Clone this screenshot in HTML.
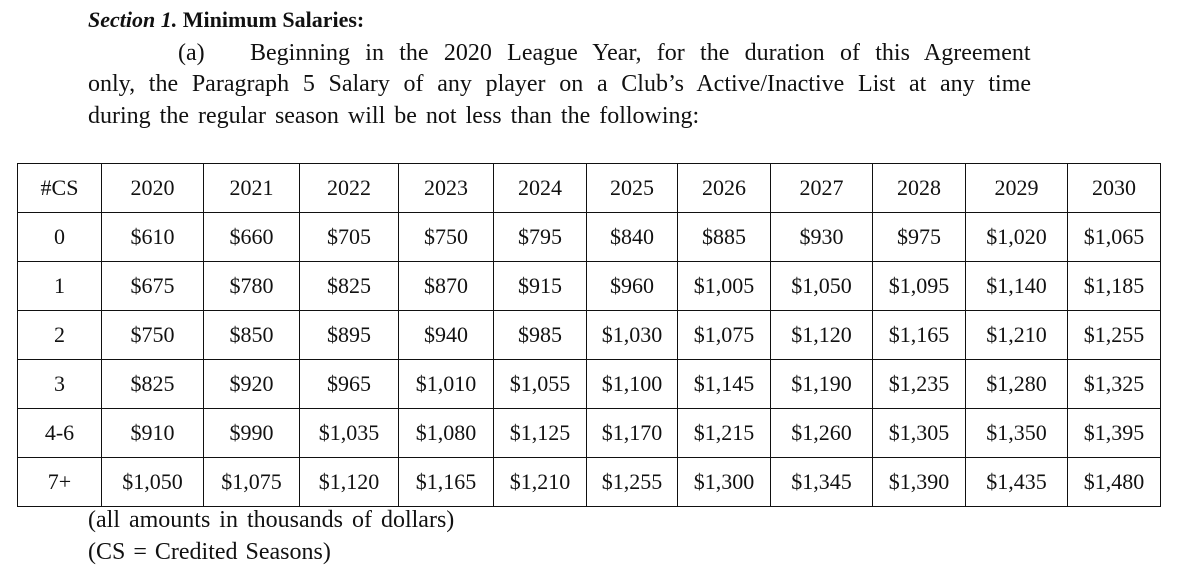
<!DOCTYPE html>
<html><head><meta charset="utf-8"><style>
body{margin:0;width:1200px;height:569px;background:#fff;font-family:"Liberation Serif",serif;color:#111;position:relative;overflow:hidden}
.t{position:absolute;white-space:nowrap;font-size:24px}
table{position:absolute;left:17px;top:163px;border-collapse:collapse;font-size:22px;table-layout:fixed}
td{border:1.5px solid #111;text-align:center;height:48px;padding:0}
</style></head><body>
<div class="t" style="left:88px;top:7px;font-size:22px"><b><i>Section 1.</i> Minimum Salaries:</b></div>
<div class="t" style="left:178px;top:40px;">(a)</div>
<div class="t" style="left:250px;top:40px;word-spacing:9.3px">Beginning in the 2020 League Year, for the duration of this Agreement</div>
<div class="t" style="left:88px;top:71px;word-spacing:7.7px">only, the Paragraph 5 Salary of any player on a Club’s Active/Inactive List at any time</div>
<div class="t" style="left:88px;top:103px;word-spacing:3px">during the regular season will be not less than the following:</div>
<table style="width:1143px">
<colgroup><col style="width:84px"><col style="width:102px"><col style="width:96px"><col style="width:99px"><col style="width:95px"><col style="width:93px"><col style="width:91px"><col style="width:93px"><col style="width:102px"><col style="width:93px"><col style="width:102px"><col style="width:93px"></colgroup>
<tr><td>#CS</td><td>2020</td><td>2021</td><td>2022</td><td>2023</td><td>2024</td><td>2025</td><td>2026</td><td>2027</td><td>2028</td><td>2029</td><td>2030</td></tr>
<tr><td>0</td><td>$610</td><td>$660</td><td>$705</td><td>$750</td><td>$795</td><td>$840</td><td>$885</td><td>$930</td><td>$975</td><td>$1,020</td><td>$1,065</td></tr>
<tr><td>1</td><td>$675</td><td>$780</td><td>$825</td><td>$870</td><td>$915</td><td>$960</td><td>$1,005</td><td>$1,050</td><td>$1,095</td><td>$1,140</td><td>$1,185</td></tr>
<tr><td>2</td><td>$750</td><td>$850</td><td>$895</td><td>$940</td><td>$985</td><td>$1,030</td><td>$1,075</td><td>$1,120</td><td>$1,165</td><td>$1,210</td><td>$1,255</td></tr>
<tr><td>3</td><td>$825</td><td>$920</td><td>$965</td><td>$1,010</td><td>$1,055</td><td>$1,100</td><td>$1,145</td><td>$1,190</td><td>$1,235</td><td>$1,280</td><td>$1,325</td></tr>
<tr><td>4-6</td><td>$910</td><td>$990</td><td>$1,035</td><td>$1,080</td><td>$1,125</td><td>$1,170</td><td>$1,215</td><td>$1,260</td><td>$1,305</td><td>$1,350</td><td>$1,395</td></tr>
<tr><td>7+</td><td>$1,050</td><td>$1,075</td><td>$1,120</td><td>$1,165</td><td>$1,210</td><td>$1,255</td><td>$1,300</td><td>$1,345</td><td>$1,390</td><td>$1,435</td><td>$1,480</td></tr>
</table>
<div class="t" style="left:88px;top:507px;word-spacing:3px">(all amounts in thousands of dollars)</div>
<div class="t" style="left:88px;top:539px;word-spacing:2px">(CS = Credited Seasons)</div>
</body></html>
